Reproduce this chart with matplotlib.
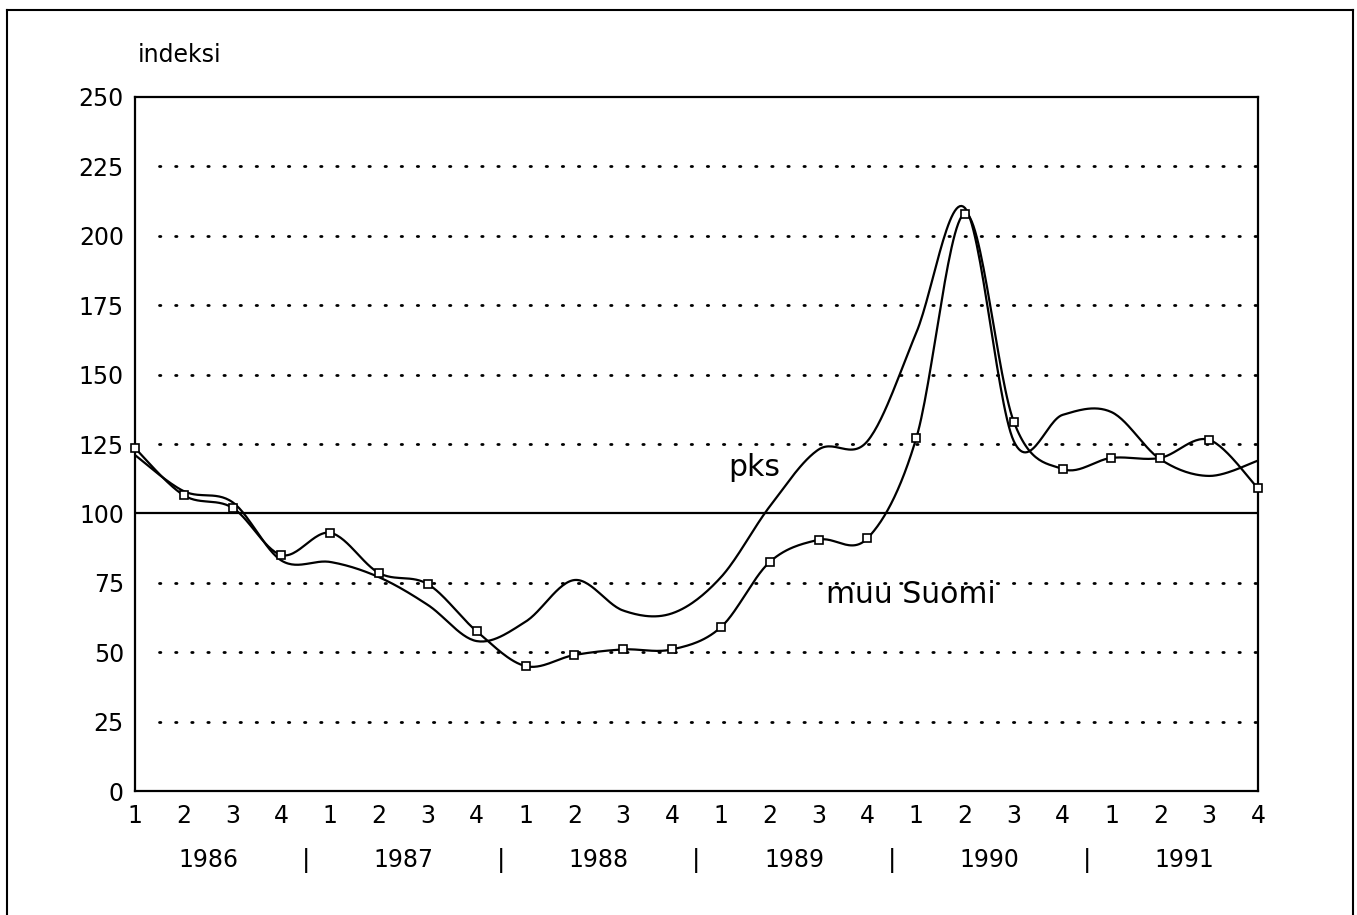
import numpy as np
import matplotlib
matplotlib.use('Agg')
import matplotlib.pyplot as plt
from matplotlib.lines import Line2D
from matplotlib.transforms import blended_transform_factory

plt.rcParams['font.family'] = ['DejaVu Sans']

years = ['1986', '1987', '1988', '1989', '1990', '1991']
quarters = ['1', '2', '3', '4'] * len(years)

muu_suomi = [123.5, 106.5, 102, 85, 93, 78.5, 74.5, 57.5,
             45, 49, 51, 51, 59, 82.5, 90.5, 91,
             127, 208, 133, 116, 120, 120, 126.5, 109]
pks = [121, 108, 104, 83, 82.5, 77, 67, 54,
       61, 76, 65, 64, 77, 102.5, 123, 126,
       165, 210, 126, 135.5, 136.5, 119.5, 113.5, 119]


def smooth(y, n=30):
    # Catmull-Rom style bezier, like the spreadsheet "smoothed line"
    y = np.asarray(y, dtype=float)
    x = np.arange(len(y), dtype=float)
    px = np.concatenate([[x[0]], x, [x[-1]]])
    py = np.concatenate([[y[0]], y, [y[-1]]])
    xs, ys = [], []
    t = np.linspace(0, 1, n)
    for i in range(1, len(px) - 2):
        p0 = np.array([px[i], py[i]])
        p3 = np.array([px[i + 1], py[i + 1]])
        c1 = p0 + (np.array([px[i + 1], py[i + 1]]) - np.array([px[i - 1], py[i - 1]])) / 6
        c2 = p3 - (np.array([px[i + 2], py[i + 2]]) - np.array([px[i], py[i]])) / 6
        b = ((1 - t) ** 3)[:, None] * p0 + (3 * (1 - t) ** 2 * t)[:, None] * c1 \
            + (3 * (1 - t) * t ** 2)[:, None] * c2 + (t ** 3)[:, None] * p3
        xs.extend(b[:, 0])
        ys.extend(b[:, 1])
    return np.array(xs), np.array(ys)


fig = plt.figure(figsize=(13.57, 9.15), dpi=100)
ax = fig.add_axes([0.0995, 0.1355, 0.8275, 0.7585])

x = np.arange(len(muu_suomi))

for v in range(25, 250, 25):
    if v == 100:
        continue
    ax.plot([0.5, 23], [v, v], color='black', lw=2.0,
            dashes=(0.5, 5.3), dash_capstyle='round', zorder=1)
ax.axhline(100, color='black', lw=1.6, zorder=2)

sx, sy = smooth(pks)
ax.plot(sx, sy, color='black', lw=1.6, zorder=3)
sx, sy = smooth(muu_suomi)
ax.plot(sx, sy, color='black', lw=1.6, zorder=3)
ax.plot(x, muu_suomi, ls='none', marker='s', ms=5.5, mfc='white',
        mec='black', mew=1.2, zorder=4, clip_on=False)

ax.set_xlim(0, 23)
ax.set_ylim(0, 250)
ax.set_yticks(range(0, 251, 25))
ax.set_xticks(x)
ax.set_xticklabels(quarters)
ax.tick_params(axis='both', length=0, labelsize=17)
ax.tick_params(axis='x', pad=9)
ax.tick_params(axis='y', pad=8)
for s in ax.spines.values():
    s.set_linewidth(1.6)

trans = blended_transform_factory(ax.transData, ax.transAxes)
for i, yr in enumerate(years):
    ax.text(4 * i + 1.5, -0.1, yr, transform=trans, ha='center', va='center',
            fontsize=17)
    if i > 0:
        ax.text(4 * i - 0.5, -0.1, '|', transform=trans, ha='center',
                va='center', fontsize=18)

ax.text(0.002, 1.0605, 'indeksi', transform=ax.transAxes, ha='left',
        va='center', fontsize=17)
ax.text(12.16, 113.4, 'pks', ha='left', va='baseline', fontsize=21.5)
ax.text(14.15, 67.9, 'muu Suomi', ha='left', va='baseline', fontsize=21.5)

# outer frame
fig.add_artist(Line2D([0.005, 0.005], [0, 0.989], color='black', lw=1.5))
fig.add_artist(Line2D([0.005, 0.997], [0.989, 0.989], color='black', lw=1.5))
fig.add_artist(Line2D([0.997, 0.997], [0, 0.989], color='black', lw=1.5))

fig.savefig('out.png', dpi=100)
